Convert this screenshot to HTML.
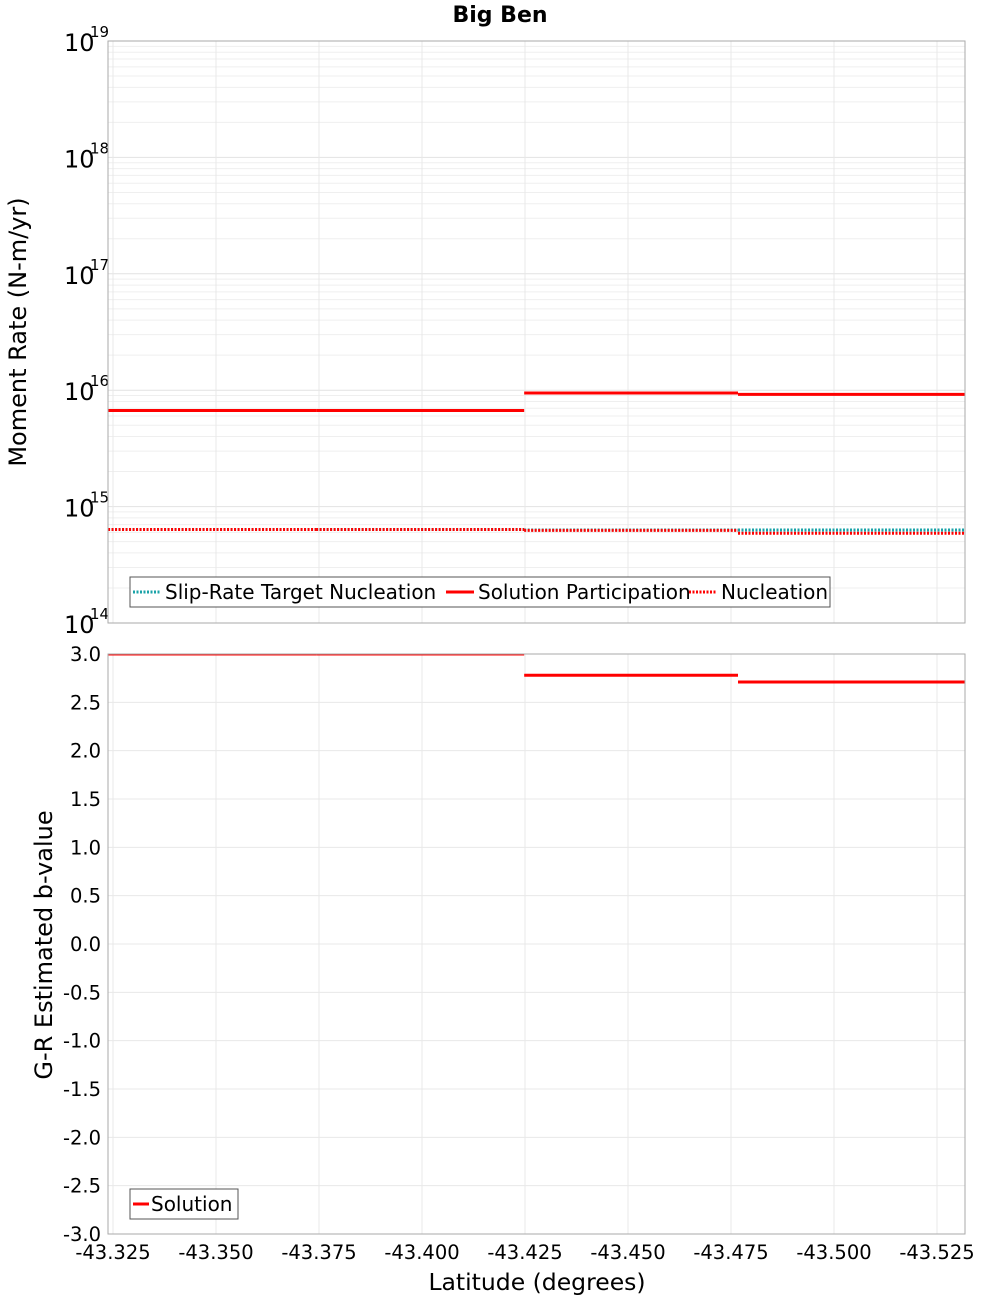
<!DOCTYPE html>
<html><head><meta charset="utf-8"><style>
body{margin:0;background:#fff;font-family:"Liberation Sans","DejaVu Sans",sans-serif;}
svg text{font-family:"DejaVu Sans","Liberation Sans",sans-serif;}
</style></head><body>
<svg id="c" width="1000" height="1300" xmlns="http://www.w3.org/2000/svg">
<defs><clipPath id="clip2"><rect x="108" y="654" width="857" height="580"/></clipPath>
<clipPath id="clip1"><rect x="108" y="41" width="857" height="582"/></clipPath></defs>
<text x="500" y="22" text-anchor="middle" font-size="22" font-weight="bold">Big Ben</text>
</svg>
<script>
const segStarts=[-43.3238,-43.3743,-43.4248,-43.4767];
const segEnds=[-43.3743,-43.4248,-43.4767,-43.5318];
const solutionPart=[6.7e15,6.7e15,9.45e15,9.2e15];
const nucleation=[6.35e14,6.35e14,6.25e14,5.9e14];
const slipTarget=[6.35e14,6.35e14,6.3e14,6.3e14];
const bValues=[3.0,3.0,2.78,2.71];
const xTicks=[-43.325,-43.35,-43.375,-43.4,-43.425,-43.45,-43.475,-43.5,-43.525];
const xTickLabels=["-43.325","-43.350","-43.375","-43.400","-43.425","-43.450","-43.475","-43.500","-43.525"];
const logDecades=[14,15,16,17,18,19];
const bTicks=[-3,-2.5,-2,-1.5,-1,-0.5,0,0.5,1,1.5,2,2.5,3];

const svg=document.getElementById('c');
const NS='http://www.w3.org/2000/svg';
const L=108,R=965,T1=41,B1=623,T2=654,B2=1234;
function X(v){return 113+(-43.325-v)/0.025*103;}
function Y1(v){return T1+(19-Math.log10(v))*(B1-T1)/5;}
function Y2(v){return T2+(3-v)*(B2-T2)/6;}
function el(tag,attrs,parent){const e=document.createElementNS(NS,tag);for(const k in attrs)e.setAttribute(k,attrs[k]);(parent||svg).appendChild(e);return e;}

[[T1,B1],[T2,B2]].forEach(([t,b],i)=>{
  const r=el('rect',{x:L,y:t,width:R-L,height:b-t,fill:'#fff',stroke:'#aaa','stroke-width':1});
  
  
});
for(let d=14;d<19;d++){for(let m=1;m<10;m++){const y=Y1(m*Math.pow(10,d));
  const g=el('line',{x1:L,x2:R,y1:y,y2:y,stroke:m==1?'#e2e2e2':'#efefef','stroke-width':1});
  
  }}
bTicks.forEach(v=>{const y=Y2(v);
  const g=el('line',{x1:L,x2:R,y1:y,y2:y,stroke:'#e8e8e8','stroke-width':1});
  
  });
xTicks.forEach(v=>{const x=X(v);
  [[T1,B1],[T2,B2]].forEach(([t,b])=>{
    const g=el('line',{x1:x,x2:x,y1:t,y2:b,stroke:'#e8e8e8','stroke-width':1});
    
    });});

logDecades.forEach(d=>{const y=Y1(Math.pow(10,d));
  const t=el('text',{x:64,y:y+10,'font-size':24});
  t.textContent='10';
  
  
  const s=el('text',{x:90,y:y-4,'font-size':15});
  s.textContent=String(d);
  
  });
bTicks.forEach(v=>{const t=el('text',{x:101,y:Y2(v)+7,'font-size':19.5,'text-anchor':'end'});
  t.textContent=v.toFixed(1);
  
  });
xTicks.forEach((v,i)=>{const t=el('text',{x:X(v),y:1259,'font-size':19.5,'text-anchor':'middle'});
  t.textContent=xTickLabels[i];
  
  });

const g1=el('g',{'clip-path':'url(#clip1)'});
const g2=el('g',{'clip-path':'url(#clip2)'});
function steps(vals,yf,color,dash,name,par){vals.forEach((v,i)=>{
  const ln=el('line',{x1:X(segStarts[i]),x2:X(segEnds[i]),y1:yf(v),y2:yf(v),stroke:color,'stroke-width':3},par);
  if(dash)ln.setAttribute('stroke-dasharray',dash);
  
  });}
steps(slipTarget,Y1,'#1aa3a8','2,1.5','slip-rate-target-segment',g1);
steps(nucleation,Y1,'#ff0000','2,1.5','nucleation-segment',g1);
steps(solutionPart,Y1,'#ff0000',null,'solution-participation-segment',g1);
steps(bValues,Y2,'#ff0000',null,'b-value-segment',g2);

[[T1,B1],[T2,B2]].forEach(([t,b])=>{const r=el('rect',{x:L,y:t,width:R-L,height:b-t,fill:'none',stroke:'#aaa','stroke-width':1});
  
  });

const lg=el('g',{});


el('rect',{x:130,y:577,width:700,height:30,fill:'#fff',stroke:'#555','stroke-width':1},lg);
const items=[['Slip-Rate Target Nucleation','#1aa3a8','2,1.5',133],['Solution Participation','#ff0000',null,446],['Nucleation','#ff0000','2,1.5',689]];
items.forEach(([txt,c,d,x])=>{const ln=el('line',{x1:x,x2:x+28,y1:592,y2:592,stroke:c,'stroke-width':3},lg);
  if(d)ln.setAttribute('stroke-dasharray',d);
  
  
  const t=el('text',{x:x+32,y:599,'font-size':20},lg);t.textContent=txt;
  
  });
const lg2=el('g',{});


el('rect',{x:130,y:1189,width:108,height:30,fill:'#fff',stroke:'#555','stroke-width':1},lg2);
el('line',{x1:133,x2:149,y1:1204,y2:1204,stroke:'#ff0000','stroke-width':3},lg2);
const t2=el('text',{x:151,y:1211,'font-size':20},lg2);t2.textContent='Solution';



const yt1=el('text',{x:0,y:0,'font-size':24,'text-anchor':'middle',transform:'translate(26,332) rotate(-90)'});
yt1.textContent='Moment Rate (N-m/yr)';


const yt2=el('text',{x:0,y:0,'font-size':24,'text-anchor':'middle',transform:'translate(52,945) rotate(-90)'});
yt2.textContent='G-R Estimated b-value';


const xt=el('text',{x:537,y:1290,'font-size':23.5,'text-anchor':'middle'});
xt.textContent='Latitude (degrees)';


</script>
</body></html>
